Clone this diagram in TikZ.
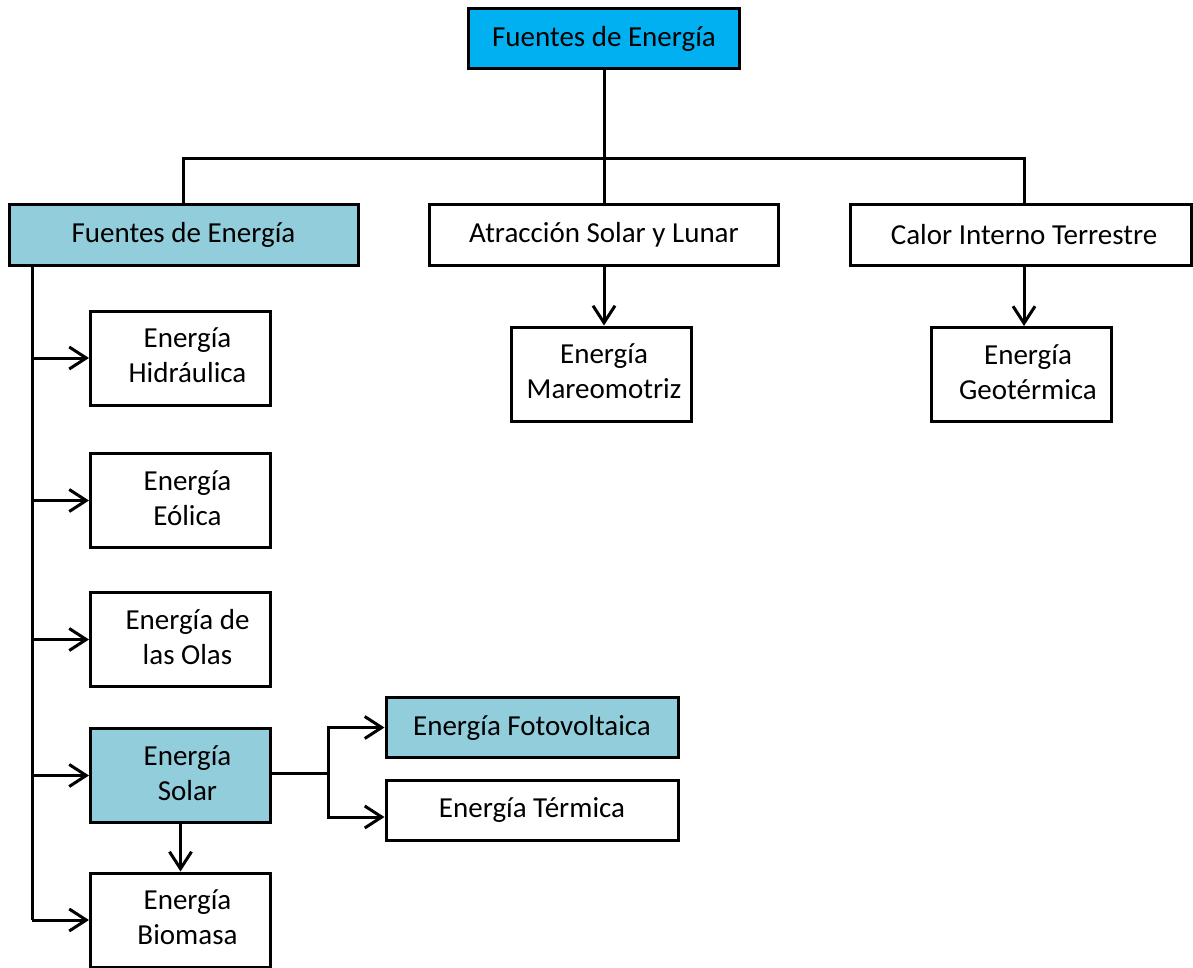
\documentclass[tikz,border=0pt]{standalone}
\usepackage{fontspec}
\setmainfont{Carlito}
\usetikzlibrary{arrows.meta,calc}
\definecolor{topblue}{HTML}{00B0F0}
\definecolor{paleblue}{HTML}{92CDDC}
% two centred lines, nudged right by half of the optional gap
\newcommand{\stacked}[3][14pt]{\hspace*{#1}\raisebox{-2pt}{\begin{tabular}{@{}c@{}}#2\\#3\end{tabular}}}
\begin{document}
\begin{tikzpicture}[x=1pt,y=-1pt,
  every node/.style={font=\fontsize{29}{35}\selectfont, inner sep=0pt},
  box/.style={draw=black, line width=3pt, fill=white, rectangle},
  wide/.style={box, minimum width=#1, minimum height=60pt},
  tall/.style={box, minimum width=180pt, minimum height=94pt},
  link/.style={line width=3pt, black},
  arr/.style={link, -{Straight Barb[length=17pt,width=22pt,line width=3pt]}}]
\useasboundingbox (0,0) rectangle (1193,968);

% level 0
\node[wide=271pt, fill=topblue] (top) at (604,38.5) {Fuentes de Energía};

% level 1
\node[wide=349pt, fill=paleblue] (fl)  at (183.5,235) {Fuentes de Energía};
\node[wide=349pt] (atr) at (604,235) {Atracción Solar y Lunar};
\node[wide=341pt] (cal) at (1020.5,235) {\hspace*{7pt}Calor Interno Terrestre};

% level 2
\node[tall] (mar) at (601,374) {\stacked[6pt]{Energía}{Mareomotriz}};
\node[tall] (geo) at (1021,374.5) {\stacked{Energía}{Geotérmica}};

\node[tall] (hid) at (180.5,358) {\stacked{Energía}{Hidráulica}};
\node[tall] (eol) at (180.5,500.5) {\stacked{Energía}{Eólica}};
\node[tall] (ola) at (180.5,639.5) {\stacked{Energía de}{las Olas}};
\node[tall, fill=paleblue] (sol) at (180.5,775.5) {\stacked{Energía}{Solar}};
\node[tall] (bio) at (180.5,920) {\stacked{Energía}{Biomasa}};

\node[wide=292pt, fill=paleblue] (fot) at (532,727.5) {Energía Fotovoltaica};
\node[wide=292pt] (ter) at (532,810.5) {Energía Térmica};

% connector anchors
\coordinate (bus) at (604,159);
\coordinate (trunk) at (32,266);
\coordinate (calx) at (1024,266);
\coordinate (split) at (328,773);

% top tree
\draw[link] (top.south) -- (bus);
\draw[link] (fl.north) |- (bus) -| (calx |- cal.north);
\draw[link] (bus) -- (atr.north);

\draw[arr] (atr.south) -- (atr.south |- mar.north);
\draw[arr] (calx) -- (calx |- geo.north);

% left trunk
\draw[link] (trunk) -- (trunk |- bio.west);
\draw[arr] (trunk |- hid.west) -- (hid.west);
\draw[arr] (trunk |- eol.west) -- (eol.west);
\draw[arr] (trunk |- ola.west) -- (ola.west);
\draw[arr] (trunk |- sol.west) -- (sol.west);
\draw[arr] (trunk |- bio.west) -- (bio.west);

% solar branches
\draw[arr] (sol.south) -- (bio.north);
\draw[link] (sol.east |- split) -- (split);
\draw[arr] (split) |- (fot.west);
\draw[arr] (split) |- ($(ter.west)+(0,6.5)$);
\end{tikzpicture}
\end{document}
